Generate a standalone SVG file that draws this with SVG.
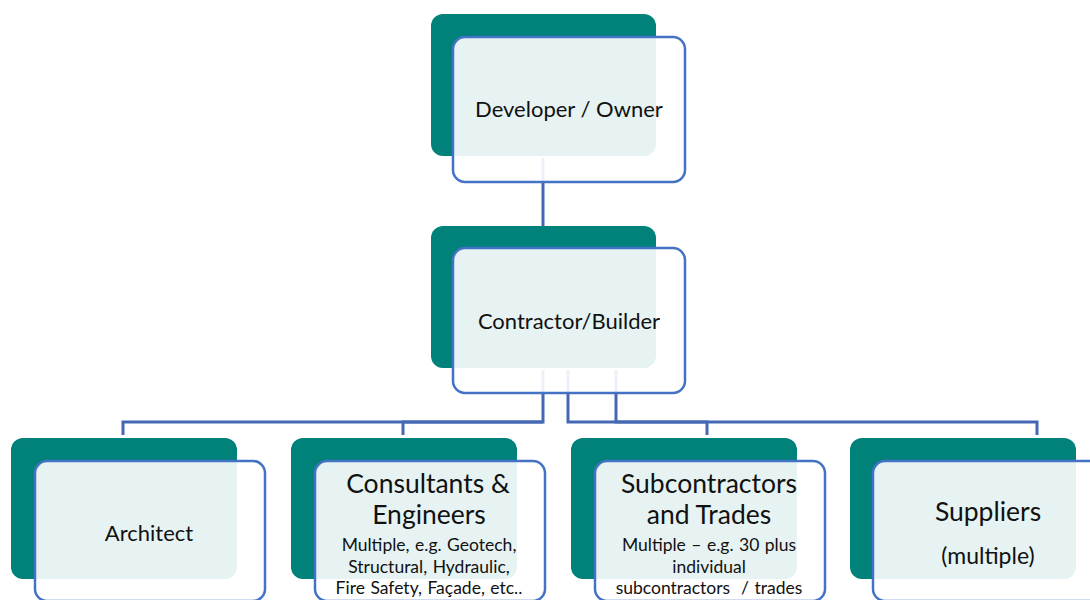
<svg xmlns="http://www.w3.org/2000/svg" width="1090" height="600" viewBox="0 0 1090 600">
<style>
.back{fill:#00827A}
.front{fill:#ffffff;fill-opacity:0.9;stroke:#4472C4;stroke-width:2.5}
.conn{fill:none;stroke:#4468B4;stroke-width:3}
text{font-family:Lato,"Open Sans","Liberation Sans",sans-serif;fill:#111;text-anchor:middle}
.t1{font-size:22px}
.t2{font-size:26.5px}
.t3{font-size:17.5px;word-spacing:1px}
.t4{font-size:23px}
</style>
<rect width="1090" height="600" fill="#fff"/>
<g id="n1-back"><rect class="back" x="431" y="14" width="225" height="142" rx="12"/></g>
<g id="n2-back"><rect class="back" x="431" y="226" width="225" height="142" rx="12"/></g>
<g id="n3-back"><rect class="back" x="11" y="438" width="226" height="141" rx="12"/></g>
<g id="n4-back"><rect class="back" x="291" y="438" width="226" height="141" rx="12"/></g>
<g id="n5-back"><rect class="back" x="571" y="438" width="226" height="141" rx="12"/></g>
<g id="n6-back"><rect class="back" x="850" y="438" width="226" height="141" rx="12"/></g>
<g id="connectors">
<polyline class="conn" points="543,158 543,226"/>
<polyline class="conn" points="543,370 543,422 123,422 123,435"/>
<polyline class="conn" points="543,422 403,422 403,435"/>
<polyline class="conn" points="568,370 568,422 707,422 707,435"/>
<polyline class="conn" points="616,370 616,422 1037,422 1037,435"/>
</g>
<g id="developer-owner">
<rect class="front" x="453" y="37" width="232" height="145" rx="12"/>
<text class="t1" x="569" y="117">Developer / Owner</text>
</g>
<g id="contractor-builder">
<rect class="front" x="453" y="248" width="232" height="145" rx="12"/>
<text class="t1" x="569" y="329">Contractor/Builder</text>
</g>
<g id="architect">
<rect class="front" x="35" y="461" width="230" height="140" rx="12"/>
<text class="t1" x="149" y="541">Architect</text>
</g>
<g id="consultants">
<rect class="front" x="315" y="461" width="230" height="140" rx="12"/>
<text class="t2" x="428" y="493">Consultants &amp;</text>
<text class="t2" x="429" y="524">Engineers</text>
<text class="t3" x="429" y="551">Multiple, e.g. Geotech,</text>
<text class="t3" x="429" y="573">Structural, Hydraulic,</text>
<text class="t3" x="429" y="594">Fire Safety, Façade, etc..</text>
</g>
<g id="subcontractors">
<rect class="front" x="595" y="461" width="230" height="140" rx="12"/>
<text class="t2" x="709" y="493">Subcontractors</text>
<text class="t2" x="709" y="524">and Trades</text>
<text class="t3" x="709" y="551">Multiple – e.g. 30 plus</text>
<text class="t3" x="709" y="573">individual</text>
<text class="t3" x="709" y="594" xml:space="preserve">subcontractors  / trades</text>
</g>
<g id="suppliers">
<rect class="front" x="873" y="461" width="230" height="140" rx="12"/>
<text class="t2" x="988" y="521">Suppliers</text>
<text class="t4" x="988" y="564">(multiple)</text>
</g>
</svg>
